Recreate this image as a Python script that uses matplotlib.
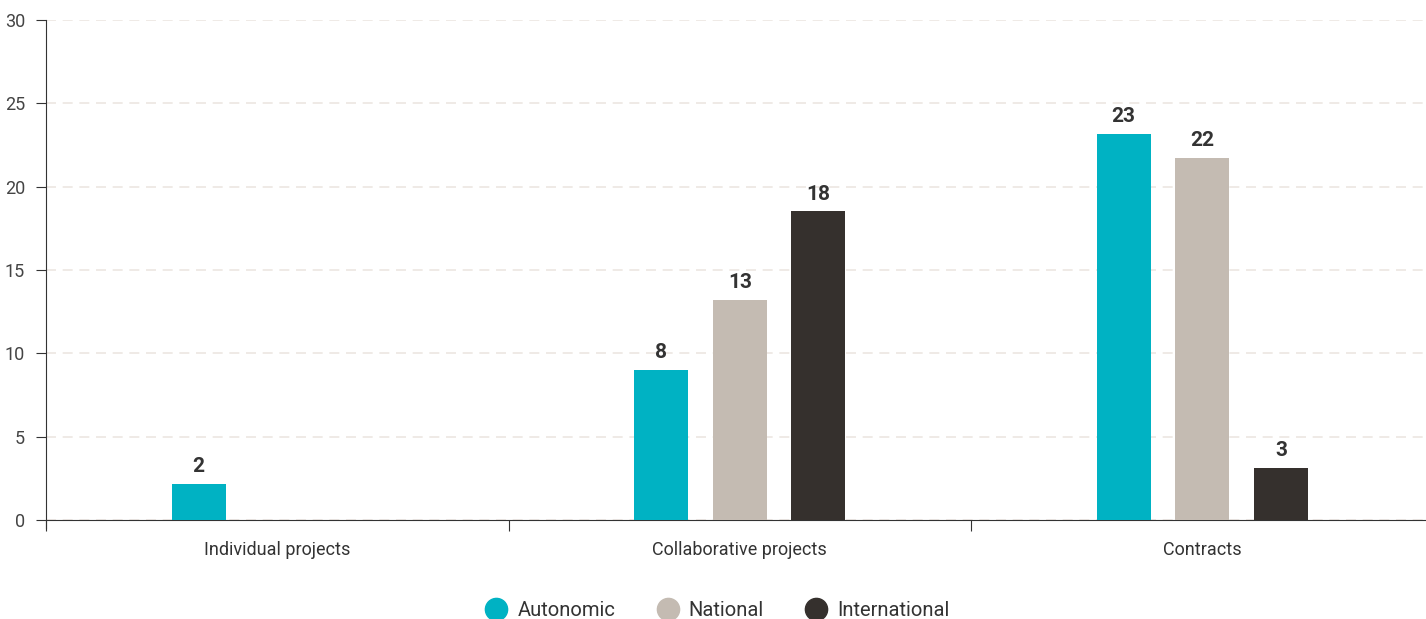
import numpy as np
import matplotlib.pyplot as plt
from matplotlib.lines import Line2D

plt.rcParams['font.family'] = ['Roboto', 'DejaVu Sans']

categories = ['Individual projects', 'Collaborative projects', 'Contracts']
series = ['Autonomic', 'National', 'International']
colors = ['#00b2c3', '#c4bbb2', '#35302d']

# bar heights as drawn, and the labels printed on top of them
heights = {
    'Autonomic': [2.16, 9.0, 23.16],
    'National': [None, 13.2, 21.72],
    'International': [None, 18.54, 3.12],
}
labels = {
    'Autonomic': ['2', '8', '23'],
    'National': [None, '13', '22'],
    'International': [None, '18', '3'],
}

fig = plt.figure(figsize=(14.26, 6.19), dpi=100)
ax = fig.add_axes([46 / 1426, 1 - 520 / 619, 1 - 46 / 1426, 500 / 619])

x = np.arange(len(categories))
width = 0.117
offsets = [-0.17, 0.0, 0.17]

for name, color, off in zip(series, colors, offsets):
    for xi, h, lab in zip(x, heights[name], labels[name]):
        if h is None:
            continue
        ax.bar(xi + off, h, width, color=color, zorder=3)
        ax.text(xi + off, h + 0.45, lab, ha='center', va='bottom',
                fontsize=15, fontweight='bold', color='#333333')

ax.set_xlim(-0.5, -0.5 + 1380 / 462.5)
ax.set_ylim(0, 30)
ax.set_yticks(range(0, 31, 5))
ax.yaxis.grid(True, color='#ece6e1', linestyle=(0, (6, 4)), linewidth=1.2, zorder=0)

ax.set_xticks([-0.5, 0.5, 1.5])
ax.set_xticklabels([])
ax.set_xticks(x, minor=True)
ax.set_xticklabels(categories, minor=True, fontsize=13, color='#333333')
ax.tick_params(axis='x', which='major', length=8, color='#333333')
ax.tick_params(axis='x', which='minor', length=0, pad=15)
ax.tick_params(axis='y', length=7, color='#333333', labelsize=13,
               labelcolor='#444444', pad=8)

for s in ['top', 'right']:
    ax.spines[s].set_visible(False)
ax.spines['left'].set_color('#333333')
ax.spines['bottom'].set_color('#333333')
ax.spines['left'].set_bounds(-0.5, 30)

handles = [Line2D([], [], marker='o', linestyle='', markersize=16,
                  markerfacecolor=c, markeredgecolor=c) for c in colors]
fig.legend(handles, series, loc='center', bbox_to_anchor=(0.5, 1 - 611 / 619),
           ncol=3, frameon=False, fontsize=14.5, handletextpad=0.05,
           columnspacing=1.6, labelcolor='#333333')

fig.savefig('out.png', dpi=100)
